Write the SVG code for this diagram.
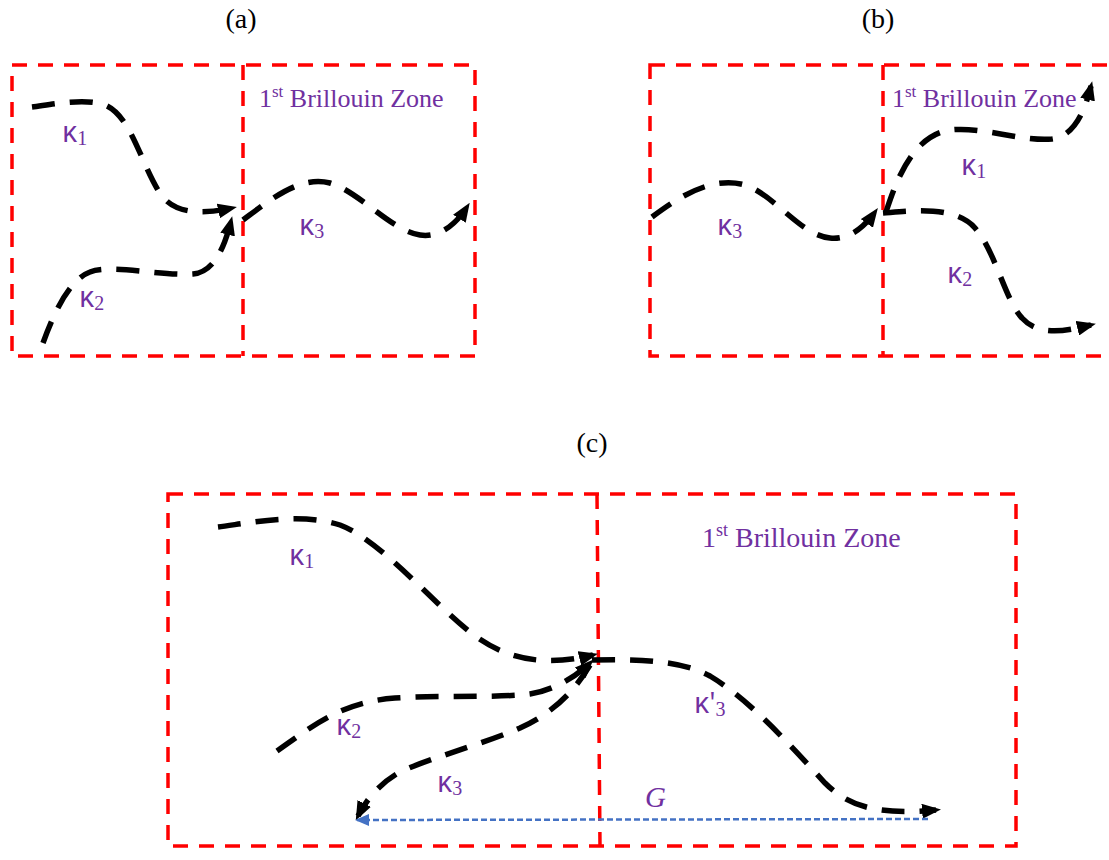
<svg xmlns="http://www.w3.org/2000/svg" width="1109" height="860" viewBox="0 0 1109 860">
<style>
.zone{fill:none;stroke:#FF0000;stroke-width:3.5;stroke-dasharray:15 11}
.cur{fill:none;stroke:#000;stroke-width:5.5;stroke-dasharray:23 15;marker-end:url(#ah)}
.gl{fill:none;stroke:#4472C4;stroke-width:2.5;stroke-dasharray:6 3;marker-end:url(#bh)}
.ttl{font-family:"Liberation Serif",serif;font-size:28px;fill:#000;text-anchor:middle}
.bz{font-family:"Liberation Serif",serif;fill:#7030A0}
.k{font-family:"Open Sans","DejaVu Sans",sans-serif;font-size:29px;fill:#7030A0}
.sub{font-family:"Liberation Serif",serif;font-size:20px}
.g{font-family:"Liberation Serif",serif;font-style:italic;font-size:29px;fill:#7030A0}
</style>
<defs>
<marker id="ah" markerUnits="userSpaceOnUse" viewBox="0 0 19 15" markerWidth="19" markerHeight="15" refX="14" refY="7.5" orient="auto">
<path d="M0,0 L19,7.5 L0,15 z" fill="#000"/>
</marker>
<marker id="bh" markerUnits="userSpaceOnUse" viewBox="0 0 14 12" markerWidth="14" markerHeight="12" refX="12" refY="6" orient="auto">
<path d="M0,0 L14,6 L0,12 z" fill="#4472C4"/>
</marker>
</defs>

<text class="ttl" x="241" y="28">(a)</text>
<text class="ttl" x="878" y="28">(b)</text>
<text class="ttl" x="592" y="452">(c)</text>

<g id="panel-a">
<rect class="zone" x="12" y="65" width="463" height="291"/>
<line class="zone" x1="243" y1="65" x2="243" y2="356"/>
<text class="bz" x="259" y="107" font-size="26">1<tspan font-size="17" dy="-10">st</tspan><tspan dy="10"> Brillouin Zone</tspan></text>
<text class="k" x="62" y="142">κ<tspan class="sub" dy="3">1</tspan></text>
<text class="k" x="79" y="307">κ<tspan class="sub" dy="3">2</tspan></text>
<text class="k" x="299" y="235">κ<tspan class="sub" dy="3">3</tspan></text>
</g>

<g id="panel-b">
<rect class="zone" x="650" y="65" width="470" height="291"/>
<line class="zone" x1="883" y1="65" x2="883" y2="356"/>
<text class="bz" x="892" y="107" font-size="26">1<tspan font-size="17" dy="-10">st</tspan><tspan dy="10"> Brillouin Zone</tspan></text>
<text class="k" x="961" y="175">κ<tspan class="sub" dy="3">1</tspan></text>
<text class="k" x="947" y="283">κ<tspan class="sub" dy="3">2</tspan></text>
<text class="k" x="717" y="235">κ<tspan class="sub" dy="3">3</tspan></text>
</g>

<g id="panel-c">
<rect class="zone" x="168" y="494" width="848" height="352"/>
<line class="zone" x1="597" y1="494" x2="600" y2="846"/>
<text class="bz" x="702" y="547" font-size="28">1<tspan font-size="18" dy="-11">st</tspan><tspan dy="11"> Brillouin Zone</tspan></text>
<text class="k" x="289" y="565">κ<tspan class="sub" dy="3">1</tspan></text>
<text class="k" x="336" y="735">κ<tspan class="sub" dy="3">2</tspan></text>
<text class="k" x="437" y="792">κ<tspan class="sub" dy="3">3</tspan></text>
<text class="k" x="694" y="713">κ'<tspan class="sub" dy="3">3</tspan></text>
<text class="g" x="645" y="807">G</text>
</g>

<g id="connectors">
<path class="cur" d="M32,107 C55,104 85,98 105,105 C130,115 140,160 158,190 C170,212 195,216 232,208"/>
<path class="cur" d="M43,343 C52,318 68,280 90,272 C110,264 160,276 193,274 C215,272 225,245 231,221"/>
<path class="cur" d="M243,220 C270,200 300,175 330,183 C360,192 390,230 420,235 C440,238 456,224 467,207"/>
<path class="cur" d="M652,217 C675,200 710,175 745,185 C775,195 800,235 830,238 C850,240 865,226 875,212"/>
<path class="cur" d="M886,212 C895,185 910,140 945,131 C975,124 1020,142 1052,139 C1075,136 1085,110 1091,86"/>
<path class="cur" d="M883,213 C910,211 955,205 975,228 C995,250 1005,300 1022,318 C1040,338 1070,330 1091,325"/>
<path class="cur" d="M218,527 C250,523 300,512 340,525 C380,540 430,600 470,632 C505,660 545,667 593,655"/>
<path class="cur" d="M277,751 C310,728 340,702 395,698 C440,695 500,698 530,694 C555,690 578,675 590,663"/>
<path class="cur" d="M590,665 C575,690 555,712 520,728 C480,745 430,758 400,772 C380,783 366,800 358,816"/>
<path class="cur" d="M592,660 C640,659 680,660 710,676 C750,700 790,745 825,783 C850,808 880,815 936,810"/>
<path class="gl" d="M928,819 L357,820"/>
</g>
</svg>
